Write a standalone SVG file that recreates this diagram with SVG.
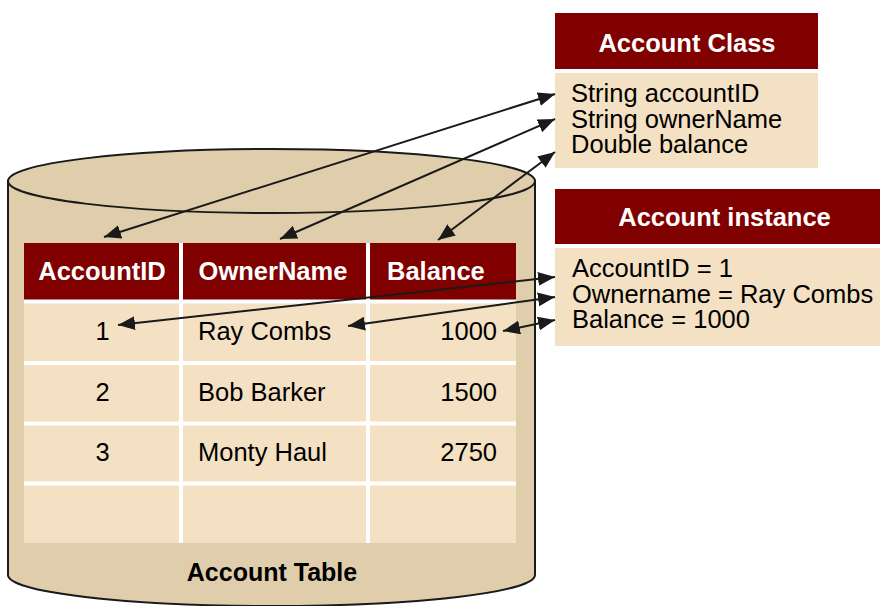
<svg xmlns="http://www.w3.org/2000/svg" width="880" height="606" viewBox="0 0 880 606">
<style>
.cyl{fill:#e0cdab;stroke:#1a1a1a;stroke-width:2}
.hdr{fill:#800000}
.cell{fill:#f4e0c2}
.sep{stroke:#ffffff;stroke-width:4}
.t{font-family:"Liberation Sans",Arial,sans-serif;font-size:25.5px;fill:#000}
.hb{font-family:"Liberation Sans",Arial,sans-serif;font-size:25.5px;font-weight:bold;fill:#ffffff}
.tb{font-family:"Liberation Sans",Arial,sans-serif;font-size:25px;font-weight:bold;fill:#000}
.conn line{stroke:#1a1a1a;stroke-width:2;marker-start:url(#ah);marker-end:url(#ah)}
</style>
<defs>
<marker id="ah" markerUnits="userSpaceOnUse" markerWidth="18" markerHeight="14" refX="17" refY="7" orient="auto-start-reverse">
<path d="M0,0 L17,7 L0,14 z" fill="#1a1a1a"/>
</marker>
</defs>
<rect width="880" height="606" fill="#ffffff"/>

<g id="account-table">
<path class="cyl" d="M8,181 L8,575 A263.5,31 0 0 0 535,575 L535,181 Z"/>
<ellipse class="cyl" cx="271.5" cy="181" rx="263.5" ry="32"/>
<rect class="cell" x="24" y="243" width="492" height="300"/>
<rect class="hdr" x="24" y="243" width="492" height="57"/>
<line class="sep" x1="24" y1="301.5" x2="516" y2="301.5"/>
<line class="sep" x1="24" y1="363" x2="516" y2="363"/>
<line class="sep" x1="24" y1="423.5" x2="516" y2="423.5"/>
<line class="sep" x1="24" y1="483.5" x2="516" y2="483.5"/>
<line class="sep" x1="181" y1="243" x2="181" y2="543"/>
<line class="sep" x1="368" y1="243" x2="368" y2="543"/>
<text class="hb" x="102" y="280" text-anchor="middle">AccountID</text>
<text class="hb" x="273" y="280" text-anchor="middle">OwnerName</text>
<text class="hb" x="387" y="280">Balance</text>
<text class="t" x="102.5" y="340" text-anchor="middle">1</text>
<text class="t" x="198" y="340">Ray Combs</text>
<text class="t" x="497" y="340" text-anchor="end">1000</text>
<text class="t" x="102.5" y="401" text-anchor="middle">2</text>
<text class="t" x="198" y="401">Bob Barker</text>
<text class="t" x="497" y="401" text-anchor="end">1500</text>
<text class="t" x="102.5" y="461" text-anchor="middle">3</text>
<text class="t" x="198" y="461">Monty Haul</text>
<text class="t" x="497" y="461" text-anchor="end">2750</text>
<text class="tb" x="272" y="581" text-anchor="middle">Account Table</text>
</g>

<g id="account-class">
<rect class="hdr" x="555" y="13" width="263" height="56"/>
<rect class="cell" x="555" y="73" width="263" height="95"/>
<text class="hb" x="687" y="52" text-anchor="middle">Account Class</text>
<text class="t" x="571" y="102">String accountID</text>
<text class="t" x="571" y="128">String ownerName</text>
<text class="t" x="571" y="153">Double balance</text>
</g>

<g id="account-instance">
<rect class="hdr" x="555" y="189" width="330" height="55"/>
<rect class="cell" x="555" y="248" width="330" height="98"/>
<text class="hb" x="724.5" y="226" text-anchor="middle">Account instance</text>
<text class="t" x="572" y="277">AccountID = 1</text>
<text class="t" x="572" y="303">Ownername = Ray Combs</text>
<text class="t" x="572" y="328">Balance = 1000</text>
</g>

<g id="connectors" class="conn">
<line x1="555" y1="94" x2="104" y2="237"/>
<line x1="555" y1="119" x2="280" y2="239"/>
<line x1="555" y1="152" x2="438" y2="240"/>
<line x1="555" y1="277" x2="118" y2="325"/>
<line x1="555" y1="297" x2="348" y2="326"/>
<line x1="555" y1="320" x2="503" y2="331"/>
</g>
</svg>
